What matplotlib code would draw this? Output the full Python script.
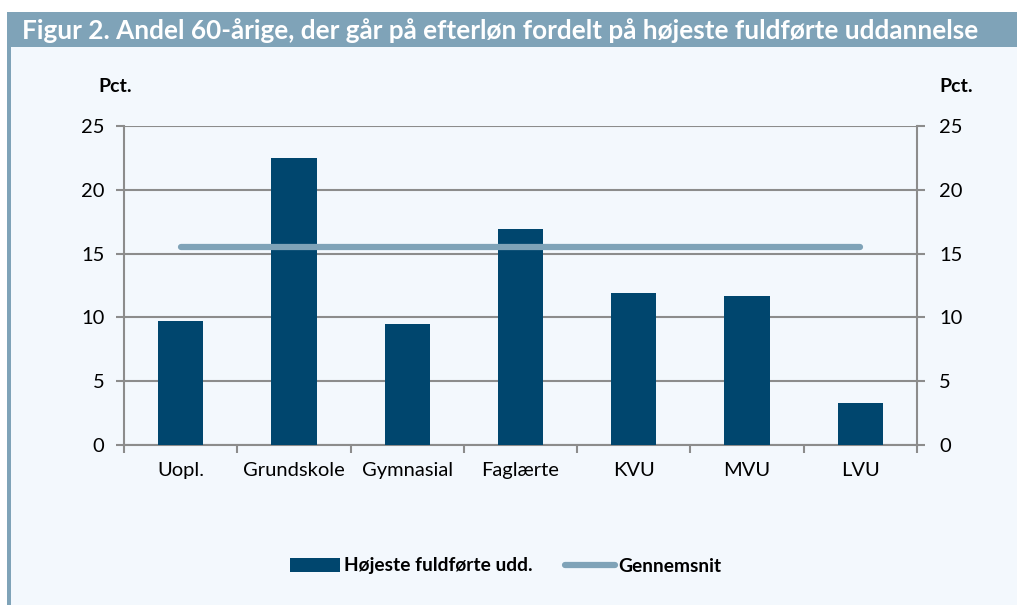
import matplotlib
matplotlib.use("Agg")
import matplotlib.pyplot as plt
from matplotlib.patches import Rectangle
from matplotlib.lines import Line2D

categories = ["Uopl.", "Grundskole", "Gymnasial", "Faglærte", "KVU", "MVU", "LVU"]
values = [9.7, 22.5, 9.5, 16.9, 11.9, 11.7, 3.3]
average = [15.5] * 7
yticks = [0, 5, 10, 15, 20, 25]
title = "Figur 2. Andel 60-årige, der går på efterløn fordelt på højeste fuldførte uddannelse"

BG = "#F3F8FD"
HEAD = "#7FA3B8"
BAR = "#00466E"
LINE = "#7FA3B8"
GRID = "#8C8C8C"

plt.rcParams['font.family'] = ['Lato', 'DejaVu Sans']

W, H = 1017, 605
fig = plt.figure(figsize=(W / 100, H / 100), dpi=100)
fig.patch.set_facecolor(BG)

# header bar and left border
fig.patches.append(Rectangle((10 / W, 1 - 47 / H), 1 - 10 / W, 35 / H, transform=fig.transFigure,
                             facecolor=HEAD, edgecolor="none", zorder=0))
fig.patches.append(Rectangle((7 / W, 0), 3.5 / W, 1 - 12 / H, transform=fig.transFigure,
                             facecolor=HEAD, edgecolor="none", zorder=0))
fig.patches.append(Rectangle((0, 0), 7 / W, 1, transform=fig.transFigure,
                             facecolor="white", edgecolor="none", zorder=0))
fig.patches.append(Rectangle((0, 1 - 12 / H), 1, 12 / H, transform=fig.transFigure,
                             facecolor="white", edgecolor="none", zorder=0))
fig.text(22 / W, 1 - 31 / H, title, color="white", fontsize=18.8, fontweight="bold",
         va="center", ha="left")

left, right, top, bottom = 124, 917, 126, 445
ax = fig.add_axes([left / W, 1 - bottom / H, (right - left) / W, (bottom - top) / H])
ax.set_facecolor(BG)
x = list(range(len(categories)))
ax.bar(x, values, width=0.4, color=BAR, zorder=3, label="Højeste fuldførte udd.")
ax.plot(x, average, color=LINE, linewidth=4.5, solid_capstyle="round", zorder=4, label="Gennemsnit")
ax.set_xlim(-0.5, len(categories) - 0.5)
ax.set_ylim(0, 25)
ax.set_yticks(yticks)
ax.set_yticklabels([str(v) for v in yticks], fontsize=14.5)
ax.yaxis.grid(True, color=GRID, linewidth=1.5, zorder=1)
ax.set_axisbelow(True)
ax.set_xticks(x)
ax.set_xticklabels(categories, fontsize=14.5)
ax.set_xticks([i - 0.5 for i in range(len(categories) + 1)], minor=True)
ax.tick_params(axis="x", which="major", length=0, pad=12)
ax.tick_params(axis="x", which="minor", length=6, width=1.5, color=GRID, direction="out")
ax.tick_params(axis="y", length=6, width=1.5, color=GRID, pad=8)
for s in ["top"]:
    ax.spines[s].set_visible(False)
for s in ["left", "right", "bottom"]:
    ax.spines[s].set_color(GRID)
    ax.spines[s].set_linewidth(1.5)

ax2 = ax.twinx()
ax2.set_ylim(0, 25)
ax2.set_yticks(yticks)
ax2.set_yticklabels([str(v) for v in yticks], fontsize=14.5)
ax2.tick_params(axis="y", length=6, width=1.5, color=GRID, pad=10)
for s in ["top", "left", "bottom", "right"]:
    ax2.spines[s].set_visible(False)

fig.text(115 / W, 1 - 86 / H, "Pct.", fontsize=14, fontweight="bold", ha="center", va="center")
fig.text(956 / W, 1 - 86 / H, "Pct.", fontsize=14, fontweight="bold", ha="center", va="center")

handles = [Rectangle((0, 0), 1, 1, facecolor=BAR),
           Line2D([0], [0], color=LINE, linewidth=4.5, solid_capstyle="round")]
fig.legend(handles, ["Højeste fuldførte udd.", "Gennemsnit"], loc="center",
           bbox_to_anchor=(506 / W, 1 - 566 / H), ncol=2, frameon=False,
           prop={"weight": "bold", "size": 13.8}, handlelength=2.6, handletextpad=0.2,
           columnspacing=1.7)

fig.savefig("out.png", dpi=100, facecolor=BG)
